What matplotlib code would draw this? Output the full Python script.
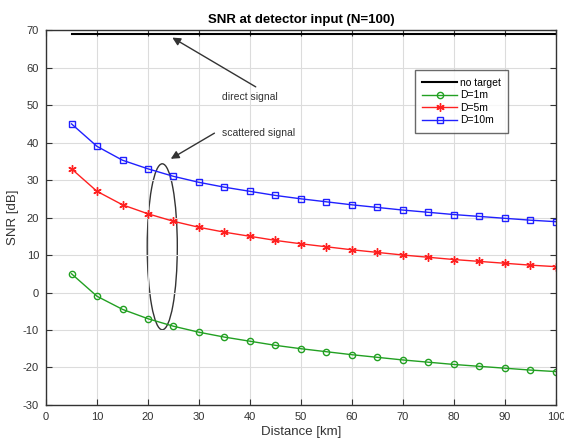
import matplotlib
matplotlib.use("Agg")
import matplotlib.pyplot as plt
from matplotlib.patches import Ellipse

plt.rcParams['font.family'] = ['Liberation Sans', 'DejaVu Sans']
plt.rcParams['axes.unicode_minus'] = False

distance = [5, 10, 15, 20, 25, 30, 35, 40, 45, 50, 55, 60, 65, 70, 75, 80, 85, 90, 95, 100]
no_target = [69] * len(distance)
snr_d1 = [5, -1, -4.5, -7, -9, -10.6, -11.9, -13, -14.1, -15, -15.8, -16.6, -17.3, -18,
          -18.6, -19.2, -19.7, -20.2, -20.7, -21.1]
snr_d5 = [33, 27, 23.4, 21, 19, 17.4, 16.1, 15, 13.9, 13, 12.2, 11.4, 10.7, 10,
          9.4, 8.8, 8.3, 7.8, 7.3, 6.9]
snr_d10 = [45, 39, 35.3, 33, 31, 29.4, 28.1, 27, 25.9, 25, 24.2, 23.4, 22.7, 22,
           21.4, 20.8, 20.3, 19.8, 19.3, 18.9]
xticks = list(range(0, 101, 10))
yticks = list(range(-30, 71, 10))

fig = plt.figure(figsize=(5.64, 4.44), dpi=100)
ax = fig.add_axes([0.0816, 0.088, 0.904, 0.844])

ax.plot(distance, no_target, color='black', lw=1.5, label='no target')
ax.plot(distance, snr_d1, color='#22a022', lw=1.0, marker='o', ms=4.5, mfc='none', mew=1.0, label='D=1m')
ax.plot(distance, snr_d5, color='#ff2020', lw=1.0, marker=(6, 2, 0), ms=6, mew=1.0, label='D=5m')
ax.plot(distance, snr_d10, color='#2020ff', lw=1.0, marker='s', ms=4, mfc='none', mew=1.0, label='D=10m')

ax.set_xlim(0, 100)
ax.set_ylim(-30, 70)
ax.set_xticks(xticks)
ax.set_yticks(yticks)
ax.grid(True, color='#dcdcdc', lw=0.8)
ax.tick_params(direction='in', top=True, right=True, labelsize=8, colors='#333333', length=4, pad=5)
for s in ax.spines.values():
    s.set_color('#333333')
    s.set_linewidth(1.0)

ax.set_title('SNR at detector input (N=100)', fontsize=9.5, fontweight='bold', pad=5)
ax.set_xlabel('Distance [km]', fontsize=9.5, color='#333333', labelpad=3)
ax.set_ylabel('SNR [dB]', fontsize=9.5, color='#333333', labelpad=3)

ax.annotate('', xy=(24.3, 68.4), xytext=(41.6, 54.5),
            arrowprops=dict(arrowstyle='-|>', color='#333333', lw=1.0, mutation_scale=12))
ax.text(34.5, 52.1, 'direct signal', fontsize=7.5, color='#333333', va='center', ha='left')

ax.annotate('', xy=(24, 35.3), xytext=(33.5, 42.9),
            arrowprops=dict(arrowstyle='-|>', color='#333333', lw=1.0, mutation_scale=12))
ax.text(34.5, 42.5, 'scattered signal', fontsize=7.5, color='#333333', va='center', ha='left')

ax.add_patch(Ellipse((22.8, 12.2), 5.9, 44.3, fill=False, edgecolor='#333333', lw=1.0))

leg = ax.legend(loc='upper left', bbox_to_anchor=(0.724, 0.893), fontsize=7.5, frameon=True,
                fancybox=False, edgecolor='#444444', handlelength=3.3, borderpad=0.7,
                labelspacing=0.25, handletextpad=0.3, borderaxespad=0)
leg.get_frame().set_linewidth(1.0)

fig.savefig('out.png', dpi=100)
